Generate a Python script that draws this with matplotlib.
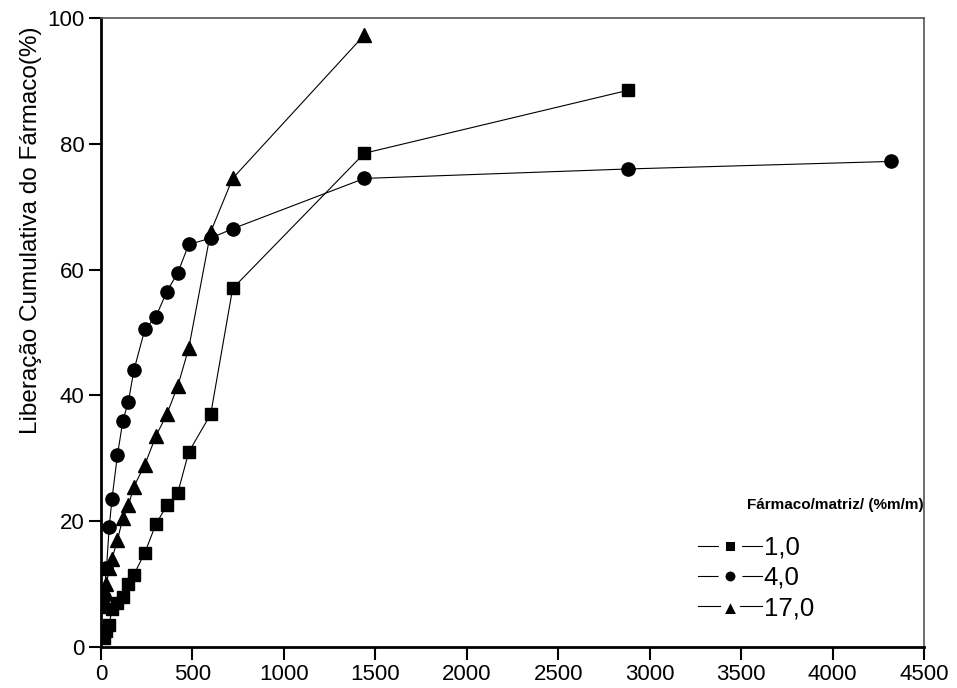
import matplotlib
matplotlib.use("Agg")
import matplotlib.pyplot as plt
from matplotlib.lines import Line2D

plt.rcParams["font.family"] = ["Liberation Sans", "DejaVu Sans"]

# time (x) and cumulative release (%) for each drug/matrix ratio
t_10 = [15, 30, 45, 60, 90, 120, 150, 180, 240, 300, 360, 420, 480, 600, 720, 1440, 2880]
y_10 = [1.5, 2.5, 3.5, 6.0, 7.0, 8.0, 10.0, 11.5, 15.0, 19.5, 22.5, 24.5, 31.0, 37.0, 57.0, 78.5, 88.5]

t_40 = [15, 30, 45, 60, 90, 120, 150, 180, 240, 300, 360, 420, 480, 600, 720, 1440, 2880, 4320]
y_40 = [8.0, 12.5, 19.0, 23.5, 30.5, 36.0, 39.0, 44.0, 50.5, 52.5, 56.5, 59.5, 64.0, 65.0, 66.5, 74.5, 76.0, 77.2]

t_170 = [15, 30, 45, 60, 90, 120, 150, 180, 240, 300, 360, 420, 480, 600, 720, 1440]
y_170 = [6.5, 10.0, 12.5, 14.0, 17.0, 20.5, 22.5, 25.5, 29.0, 33.5, 37.0, 41.5, 47.5, 66.0, 74.5, 97.3]

labels = ["1,0", "4,0", "17,0"]
markers = ["s", "o", "^"]
x_ticks = [0, 500, 1000, 1500, 2000, 2500, 3000, 3500, 4000, 4500]
y_ticks = [0, 20, 40, 60, 80, 100]

fig = plt.figure(figsize=(9.57, 6.88), dpi=100)
ax = fig.add_axes([0.1055, 0.0596, 0.8600, 0.9142])

ax.plot(t_10, y_10, color="black", lw=0.8, marker="s", ms=8.5)
ax.plot(t_40, y_40, color="black", lw=0.8, marker="o", ms=9.5)
ax.plot(t_170, y_170, color="black", lw=0.8, marker="^", ms=10)

ax.set_xlim(0, 4500)
ax.set_ylim(0, 100)
ax.set_xticks(x_ticks)
ax.set_yticks(y_ticks)
ax.tick_params(direction="out", length=9, width=1.5, labelsize=16, pad=3)
ax.set_ylabel("Liberação Cumulativa do Fármaco(%)", fontsize=17.5)
ax.yaxis.set_label_coords(-0.072, 0.663)

for side in ("left", "bottom"):
    ax.spines[side].set_linewidth(2)
for side in ("top", "right"):
    ax.spines[side].set_linewidth(1.2)
    ax.spines[side].set_color("#555555")

# legend handles: thin line broken around a small black marker
# (white marker edge cuts the line either side of the marker)
leg_ms = {"s": 12.2, "o": 12.2, "^": 16}
handles = [Line2D([], [], color="black", lw=0.8, marker=m, ms=leg_ms[m],
                  markerfacecolor="black", markeredgecolor="white", mew=5)
           for m in markers]
ax.legend(handles, labels, loc="center left", bbox_to_anchor=(0.7254, 0.1097),
          frameon=False, fontsize=18.5, handlelength=2.5, handletextpad=0.05,
          labelspacing=0.25, borderaxespad=0, borderpad=0)
ax.text(0.785, 0.2258, "Fármaco/matriz/ (%m/m)", transform=ax.transAxes,
        ha="left", va="center", fontsize=11, fontweight="bold")

fig.savefig("out.png", dpi=100)
